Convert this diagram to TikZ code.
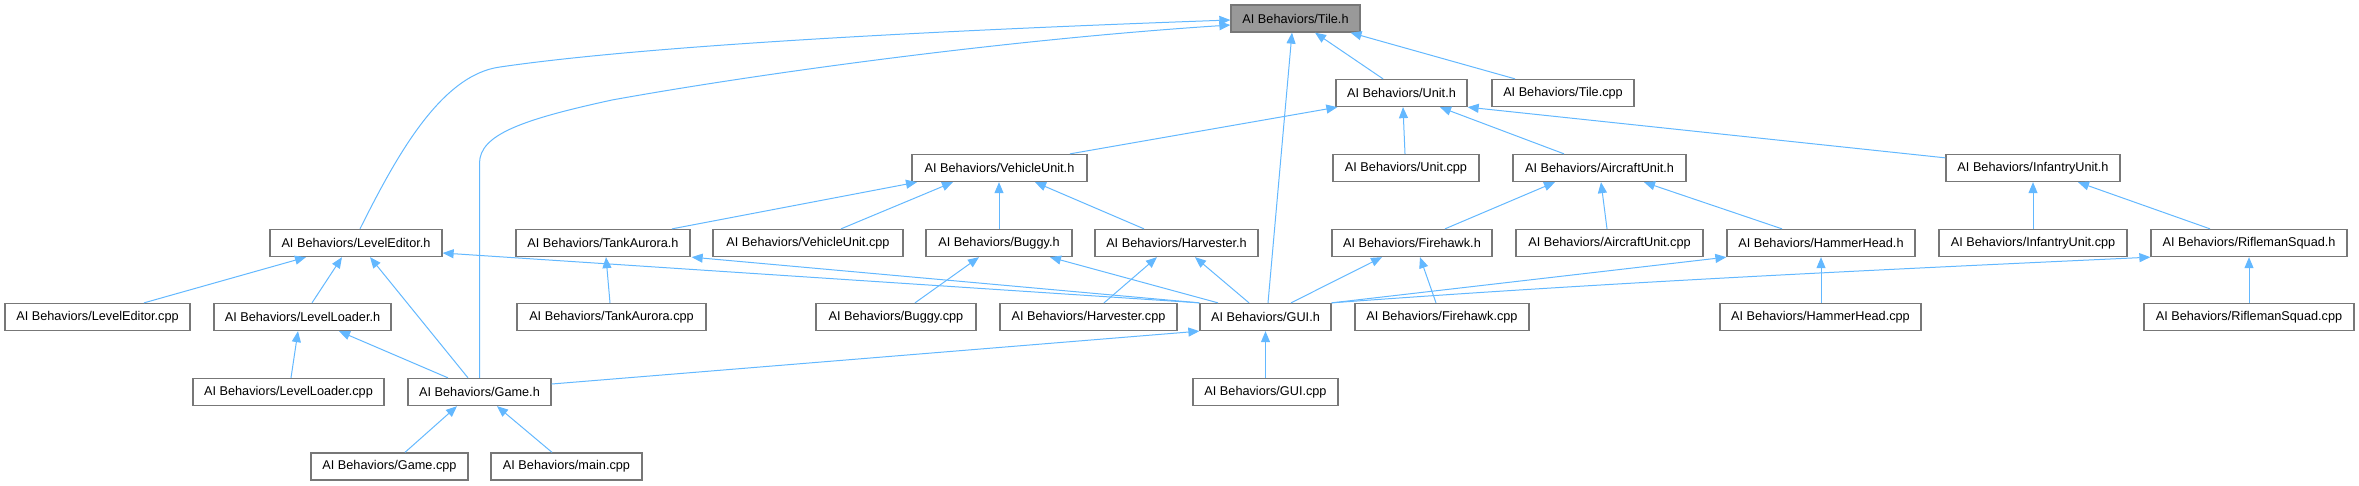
\documentclass[tikz,border=0pt]{standalone}
\usepackage{fontspec}
\setmainfont{Liberation Sans}
\usetikzlibrary{arrows.meta}
\definecolor{edgeblue}{HTML}{63B8FF}
\definecolor{boxgrey}{HTML}{777777}
\definecolor{rootfill}{HTML}{999999}
\tikzset{
  box/.style={draw=boxgrey, line width=1.3pt, fill=white, rectangle, minimum height=27pt,
    inner sep=0pt, font=\fontsize{12.7pt}{15pt}\selectfont, text=black},
  rootbox/.style={box, fill=rootfill},
  edge/.style={draw=edgeblue, line width=1pt, -{Triangle[length=11pt,width=9pt]}, edgeblue}
}
\begin{document}
\begin{tikzpicture}[x=1pt,y=-1pt]
\useasboundingbox (0,0) rectangle (2359,485);
% row 0
\node[rootbox, minimum width=129pt] (tile) at (1295.5,18.5) {AI Behaviors/Tile.h};
% row 1
\node[box, minimum width=131pt] (unit) at (1401.5,93) {AI Behaviors/Unit.h};
\node[box, minimum width=142pt] (tilecpp) at (1563,93) {AI Behaviors/Tile.cpp};
% row 2
\node[box, minimum width=175pt] (vehicle) at (999.5,168) {AI Behaviors/VehicleUnit.h};
\node[box, minimum width=146pt] (unitcpp) at (1406,168) {AI Behaviors/Unit.cpp};
\node[box, minimum width=173pt] (aircraft) at (1599.5,168) {AI Behaviors/AircraftUnit.h};
\node[box, minimum width=174pt] (infantry) at (2033,168) {AI Behaviors/InfantryUnit.h};
% row 3
\node[box, minimum width=172pt] (leveleditor) at (356,243) {AI Behaviors/LevelEditor.h};
\node[box, minimum width=174pt] (tank) at (603,243) {AI Behaviors/TankAurora.h};
\node[box, minimum width=190pt] (vehiclecpp) at (808,243) {AI Behaviors/VehicleUnit.cpp};
\node[box, minimum width=146pt] (buggy) at (999,243) {AI Behaviors/Buggy.h};
\node[box, minimum width=163pt] (harvester) at (1176.5,243) {AI Behaviors/Harvester.h};
\node[box, minimum width=160pt] (firehawk) at (1412,243) {AI Behaviors/Firehawk.h};
\node[box, minimum width=187pt] (aircraftcpp) at (1609.5,243) {AI Behaviors/AircraftUnit.cpp};
\node[box, minimum width=188pt] (hammer) at (1821,243) {AI Behaviors/HammerHead.h};
\node[box, minimum width=188pt] (infantrycpp) at (2033,243) {AI Behaviors/InfantryUnit.cpp};
\node[box, minimum width=196pt] (rifleman) at (2249,243) {AI Behaviors/RiflemanSquad.h};
% row 4
\node[box, minimum width=185pt] (leveleditorcpp) at (97.5,317) {AI Behaviors/LevelEditor.cpp};
\node[box, minimum width=177pt] (levelloader) at (302.5,317) {AI Behaviors/LevelLoader.h};
\node[box, minimum width=189pt] (tankcpp) at (611.5,317) {AI Behaviors/TankAurora.cpp};
\node[box, minimum width=160pt] (buggycpp) at (896,317) {AI Behaviors/Buggy.cpp};
\node[box, minimum width=177pt] (harvestercpp) at (1088.5,317) {AI Behaviors/Harvester.cpp};
\node[box, minimum width=131pt] (gui) at (1265.5,317) {AI Behaviors/GUI.h};
\node[box, minimum width=174pt] (firehawkcpp) at (1442,317) {AI Behaviors/Firehawk.cpp};
\node[box, minimum width=201pt] (hammercpp) at (1820.5,317) {AI Behaviors/HammerHead.cpp};
\node[box, minimum width=210pt] (riflemancpp) at (2249,317) {AI Behaviors/RiflemanSquad.cpp};
% row 5
\node[box, minimum width=191pt] (levelloadercpp) at (288.5,392) {AI Behaviors/LevelLoader.cpp};
\node[box, minimum width=143pt] (game) at (479.5,392) {AI Behaviors/Game.h};
\node[box, minimum width=145pt] (guicpp) at (1265.5,392) {AI Behaviors/GUI.cpp};
% row 6
\node[box, minimum width=157pt] (gamecpp) at (389.5,466.5) {AI Behaviors/Game.cpp};
\node[box, minimum width=151pt] (maincpp) at (566.5,466.5) {AI Behaviors/main.cpp};

% edges to Tile.h
\draw[edge] ([xshift=-18.5pt]unit.north) -- ([xshift=19.5pt]tile.south);
\draw[edge] ([xshift=-48pt]tilecpp.north) -- ([xshift=55pt]tile.south);
\draw[edge] ([xshift=2.5pt]gui.north) -- ([xshift=-3.5pt]tile.south);
\draw[edge] ([xshift=4pt]leveleditor.north) .. controls (395,159) and (440,75) .. (500,67)
   .. controls (650,45) and (950,30) .. ([yshift=-1.5pt]tile.west);
\draw[edge] (game.north) -- (479.5,163) .. controls (480,135) and (520,120) .. (612,100)
   .. controls (750,75) and (1000,40) .. ([yshift=-6.5pt]tile.west);
% edges to Unit.h
\draw[edge] ([xshift=70.5pt]vehicle.north) -- ([xshift=2pt]unit.south west);
\draw[edge] ([xshift=-1pt]unitcpp.north) -- ([xshift=1.5pt]unit.south);
\draw[edge] ([xshift=-35.5pt]aircraft.north) -- ([xshift=38.5pt]unit.south);
\draw[edge] ([yshift=-4pt]infantry.north west) -- (unit.south east);
% edges to VehicleUnit.h
\draw[edge] ([xshift=69pt]tank.north) -- ([xshift=-82.5pt]vehicle.south);
\draw[edge] ([xshift=33pt]vehiclecpp.north) -- ([xshift=-46.5pt]vehicle.south);
\draw[edge] (buggy.north) -- ([xshift=-0.5pt]vehicle.south);
\draw[edge] ([xshift=-32.5pt]harvester.north) -- ([xshift=35.5pt]vehicle.south);
% edges to AircraftUnit.h
\draw[edge] ([xshift=33pt]firehawk.north) -- ([xshift=-44.5pt]aircraft.south);
\draw[edge] ([xshift=-2.5pt]aircraftcpp.north) -- ([xshift=1.5pt]aircraft.south);
\draw[edge] ([xshift=-39pt]hammer.north) -- ([xshift=44.5pt]aircraft.south);
% edges to InfantryUnit.h
\draw[edge] (infantrycpp.north) -- (infantry.south);
\draw[edge] ([xshift=-39pt]rifleman.north) -- ([xshift=45pt]infantry.south);
% edges to LevelEditor.h
\draw[edge] ([xshift=46.5pt]leveleditorcpp.north) -- ([xshift=-50pt]leveleditor.south);
\draw[edge] ([xshift=9.5pt]levelloader.north) -- ([xshift=-14pt]leveleditor.south);
\draw[edge] ([xshift=-11.5pt]game.north) -- ([xshift=14pt]leveleditor.south);
\draw[edge] (gui.north west) -- ([yshift=-10pt]leveleditor.east);
% edges to TankAurora.h
\draw[edge] ([xshift=-1.5pt]tankcpp.north) -- ([xshift=3pt]tank.south);
\draw[edge] (gui.north west) -- ([xshift=1pt]tank.south east);
% edges to Buggy.h
\draw[edge] ([xshift=19pt]buggycpp.north) -- ([xshift=-20pt]buggy.south);
\draw[edge] ([xshift=-47.5pt]gui.north) -- ([xshift=51pt]buggy.south);
% edges to Harvester.h
\draw[edge] ([xshift=15.5pt]harvestercpp.north) -- ([xshift=-19.5pt]harvester.south);
\draw[edge] ([xshift=-16.5pt]gui.north) -- ([xshift=18.5pt]harvester.south);
% edges to Firehawk.h
\draw[edge] ([xshift=25.5pt]gui.north) -- ([xshift=-30pt]firehawk.south);
\draw[edge] ([xshift=-6pt]firehawkcpp.north) -- ([xshift=8pt]firehawk.south);
% edges to HammerHead.h / RiflemanSquad.h
\draw[edge] (gui.north east) -- (hammer.south west);
\draw[edge] ([xshift=0.5pt]hammercpp.north) -- (hammer.south);
\draw[edge] (gui.north east) .. controls (1600,283) and (1850,271) .. (rifleman.south west);
\draw[edge] (riflemancpp.north) -- (rifleman.south);
% edges to GUI.h
\draw[edge] (guicpp.north) -- (gui.south);
\draw[edge] ([yshift=8pt]game.east) -- (gui.south west);
% edges to LevelLoader.h
\draw[edge] ([xshift=2.5pt]levelloadercpp.north) -- ([xshift=-4.5pt]levelloader.south);
\draw[edge] ([xshift=-31.5pt]game.north) -- ([xshift=36.5pt]levelloader.south);
% edges to Game.h
\draw[edge] ([xshift=15.5pt]gamecpp.north) -- ([xshift=-22.5pt]game.south);
\draw[edge] ([xshift=-14.5pt]maincpp.north) -- ([xshift=17.5pt]game.south);
\end{tikzpicture}
\end{document}
